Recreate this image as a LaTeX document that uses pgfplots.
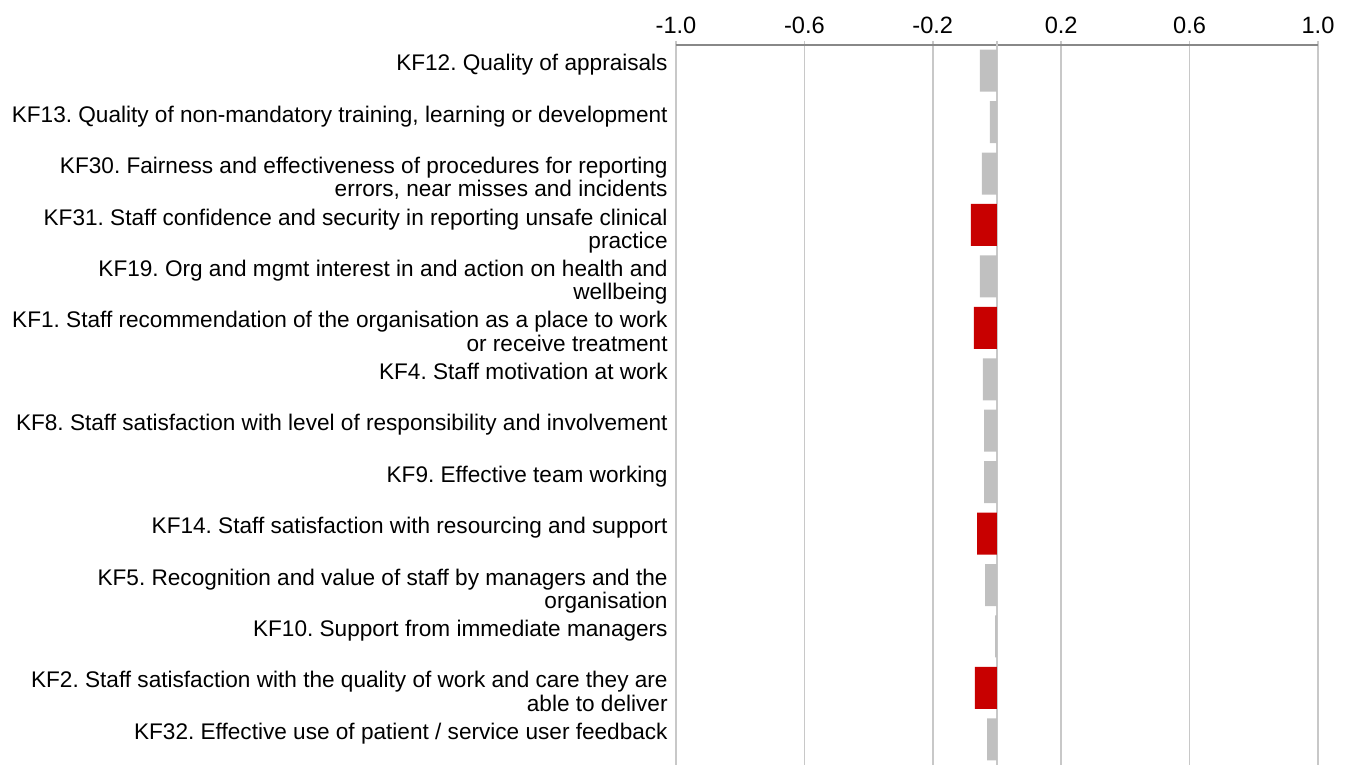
\documentclass[border=0pt]{standalone}
\usepackage{pgfplots}
\pgfplotsset{compat=1.18}
\usepackage{fontspec}
\setmainfont{Liberation Sans}
\frenchspacing
\definecolor{barg}{RGB}{192,192,192}
\definecolor{barr}{RGB}{200,0,0}
\definecolor{gridc}{RGB}{200,200,200}
\definecolor{axc}{RGB}{136,136,136}
\newcommand{\two}[2]{\begin{tabular}[t]{@{}r@{}}#1\\#2\end{tabular}}
\begin{document}
\begin{tikzpicture}
\begin{axis}[name=ax, scale only axis, width=321pt, height=360pt,
  xmin=-1, xmax=1, ymin=-0.5, ymax=13.5, y dir=reverse,
  axis x line*=top, axis y line*=left,
  x axis line style={-, draw=axc, line width=1pt},
  y axis line style={draw=none},
  xtick={-1,-0.6,-0.2,0.2,0.6,1},
  xticklabels={-1.0,-0.6,-0.2,0.2,0.6,1.0},
  extra x ticks={0}, extra x tick labels={},
  xmajorgrids, grid style={draw=gridc, line width=0.75pt},
  extra x tick style={grid style={draw=gridc, line width=0.75pt}},
  tick align=outside, major tick length=2pt,
  xtick style={draw=gridc, line width=0.75pt},
  ytick style={draw=none},
  xticklabel style={font=\fontsize{11.8}{13}\selectfont, inner sep=0pt, anchor=base},
  xticklabel shift=3.5pt,
  ytick={0,...,13},
  yticklabels={
    {KF12. Quality of appraisals},
    {KF13. Quality of non-mandatory training, learning or development},
    {\two{KF30. Fairness and effectiveness of procedures for reporting}{errors, near misses and incidents}},
    {\two{KF31. Staff confidence and security in reporting unsafe clinical}{practice}},
    {\two{KF19. Org and mgmt interest in and action on health and}{wellbeing}},
    {\two{KF1. Staff recommendation of the organisation as a place to work}{or receive treatment}},
    {KF4. Staff motivation at work},
    {KF8. Staff satisfaction with level of responsibility and involvement},
    {KF9. Effective team working},
    {KF14. Staff satisfaction with resourcing and support},
    {\two{KF5. Recognition and value of staff by managers and the}{organisation}},
    {KF10. Support from immediate managers},
    {\two{KF2. Staff satisfaction with the quality of work and care they are}{able to deliver}},
    {KF32. Effective use of patient / service user feedback}},
  yticklabel style={font=\fontsize{11.3}{11.5}\selectfont, anchor=base east, inner sep=0pt, xshift=-2pt},
]
\addplot[xbar, bar width=21pt, bar shift=0pt, fill=barg, draw=none] coordinates {
  (-0.053,0) (-0.022,1) (-0.047,2) (-0.053,4) (-0.044,6) (-0.040,7)
  (-0.040,8) (-0.037,10) (-0.006,11) (-0.031,13)};
\addplot[xbar, bar width=21pt, bar shift=0pt, fill=barr, draw=none] coordinates {
  (-0.081,3) (-0.072,5) (-0.062,9) (-0.069,12)};
\end{axis}
\pgfresetboundingbox
\path ([shift={(-338pt,22.5pt)}]ax.north west) rectangle ([shift={(16pt,0pt)}]ax.south east);
\end{tikzpicture}
\end{document}
